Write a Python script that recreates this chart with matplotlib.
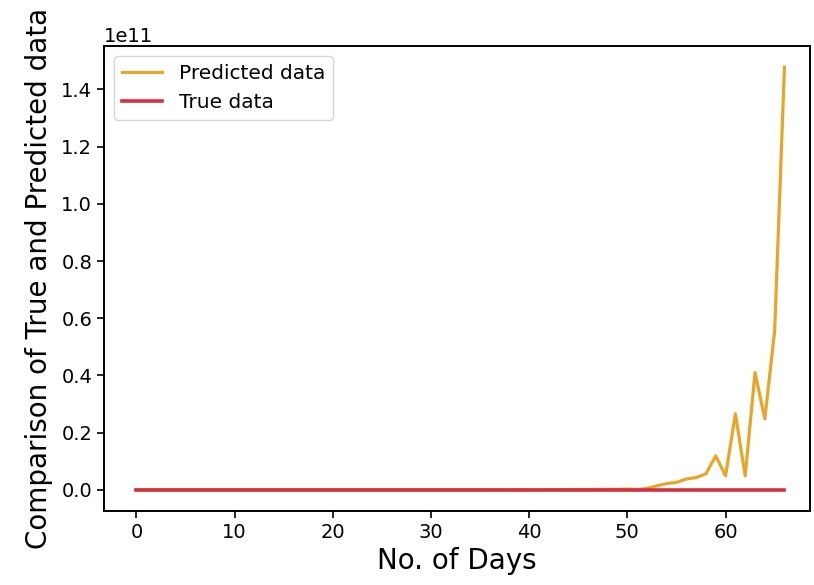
import numpy as np
import matplotlib.pyplot as plt

# values, in units of 1e9
days = np.arange(67)
predicted = [0.0, 0.0, 0.0, 0.0, 0.0, 0.0, 0.0, 0.0, 0.0, 0.0,
             0.0, 0.0, 0.0, 0.0, 0.0, 0.0, 0.0, 0.0, 0.0, 0.0,
             0.0, 0.0, 0.0, 0.0, 0.01, 0.01, 0.01, 0.01, 0.01, 0.02,
             0.02, 0.02, 0.02, 0.03, 0.03, 0.03, 0.04, 0.04, 0.05, 0.05,
             0.06, 0.06, 0.07, 0.08, 0.09, 0.1, 0.12, 0.15, 0.2, 0.15,
             0.3, 0.1, 0.5, 1.4, 2.2, 2.6, 3.8, 4.3, 5.6, 11.9,
             4.9, 26.6, 4.9, 41.0, 24.8, 55.6, 147.8]
true = [0.0] * 67

pred = np.array(predicted) * 1e9
tru = np.array(true) * 1e9

fig = plt.figure(figsize=(8.14, 5.85), dpi=100)
ax = fig.add_axes([104 / 814, 1 - 511 / 585, (810 - 104) / 814, (511 - 46) / 585])

ax.plot(days, pred, color='#e8a628', lw=2.3, label='Predicted data')
ax.plot(days, tru, color='#d62f3f', lw=2.6, label='True data')

ax.set_xlim(-3.3, 68.6)
ax.set_xlabel('No. of Days', fontsize=20)
ax.set_ylabel('Comparison of True and Predicted data', fontsize=20, labelpad=6)
ax.tick_params(labelsize=14, length=5, width=1.2)
ax.yaxis.get_offset_text().set_fontsize(14)
for s in ax.spines.values():
    s.set_linewidth(1.4)
ax.legend(loc='upper left', fontsize=14.5)

fig.savefig('out.png', dpi=100)
